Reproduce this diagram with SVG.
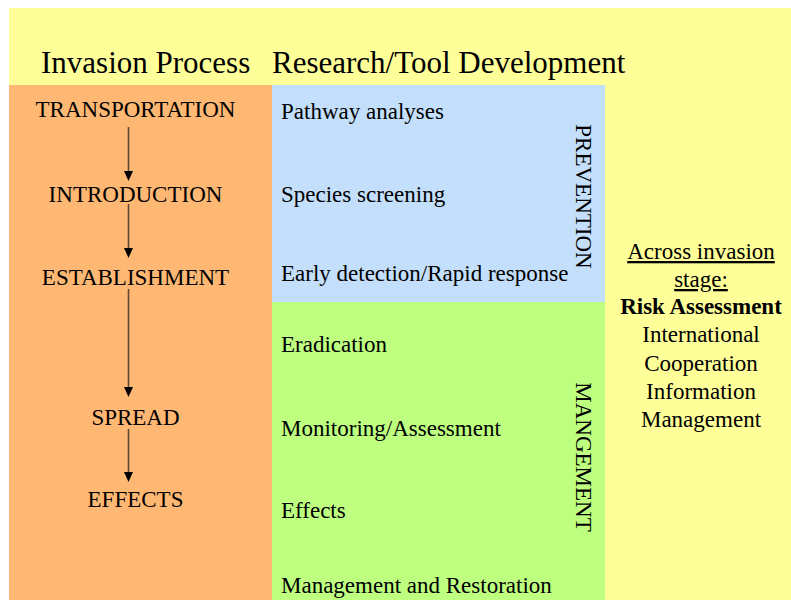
<svg xmlns="http://www.w3.org/2000/svg" width="791" height="600" viewBox="0 0 791 600">
  <style>
    text { font-family: "Liberation Serif", "Times New Roman", serif; fill: #000; }
    .head { font-size: 31px; }
    .lbl { font-size: 23px; }
    .mid { text-anchor: middle; }
    .conn line { stroke: #5e4632; stroke-width: 1.6; }
    .conn path { fill: #000; }
  </style>

  <!-- panels -->
  <rect id="bg" x="9" y="8" width="782" height="592" fill="#FFFF99"/>
  <rect id="process-panel" x="9" y="85" width="263" height="515" fill="#FFB874"/>
  <rect id="prevention-panel" x="272" y="85" width="333" height="217" fill="#C4DFFB"/>
  <rect id="management-panel" x="272" y="302" width="333" height="298" fill="#BEFF80"/>

  <!-- column headings -->
  <g id="headings">
    <text class="head" x="41" y="73">Invasion Process</text>
    <text class="head" x="272" y="73">Research/Tool Development</text>
  </g>

  <!-- invasion stages -->
  <g id="stage-transportation"><text class="lbl mid" x="135.5" y="117">TRANSPORTATION</text></g>
  <g id="stage-introduction"><text class="lbl mid" x="135.5" y="202">INTRODUCTION</text></g>
  <g id="stage-establishment"><text class="lbl mid" x="135.5" y="285">ESTABLISHMENT</text></g>
  <g id="stage-spread"><text class="lbl mid" x="135.5" y="425">SPREAD</text></g>
  <g id="stage-effects"><text class="lbl mid" x="135.5" y="507">EFFECTS</text></g>

  <!-- connectors between stages -->
  <g id="connectors" class="conn">
    <line x1="128.5" y1="127" x2="128.5" y2="172"/>
    <path d="M124,171 L133,171 L128.5,181 Z"/>
    <line x1="128.5" y1="204" x2="128.5" y2="249"/>
    <path d="M124,248 L133,248 L128.5,258 Z"/>
    <line x1="128.5" y1="289" x2="128.5" y2="388"/>
    <path d="M124,387 L133,387 L128.5,397 Z"/>
    <line x1="128.5" y1="429" x2="128.5" y2="473"/>
    <path d="M124,472 L133,472 L128.5,482 Z"/>
  </g>

  <!-- prevention tools -->
  <g id="prevention">
    <text class="lbl" x="281" y="119">Pathway analyses</text>
    <text class="lbl" x="281" y="202">Species screening</text>
    <text class="lbl" x="281" y="281">Early detection/Rapid response</text>
    <text class="lbl mid" transform="translate(576,196.5) rotate(90)">PREVENTION</text>
  </g>

  <!-- management tools -->
  <g id="management">
    <text class="lbl" x="281" y="352">Eradication</text>
    <text class="lbl" x="281" y="436">Monitoring/Assessment</text>
    <text class="lbl" x="281" y="518">Effects</text>
    <text class="lbl" x="281" y="593">Management and Restoration</text>
    <text class="lbl mid" transform="translate(576,457) rotate(90)">MANGEMENT</text>
  </g>

  <!-- cross-cutting themes -->
  <g id="across-stages">
    <text class="lbl mid" x="701" y="259" text-decoration="underline">Across invasion</text>
    <text class="lbl mid" x="701" y="287" text-decoration="underline">stage:</text>
    <text class="lbl mid" x="701" y="314" font-weight="bold">Risk Assessment</text>
    <text class="lbl mid" x="701" y="342">International</text>
    <text class="lbl mid" x="701" y="371">Cooperation</text>
    <text class="lbl mid" x="701" y="399">Information</text>
    <text class="lbl mid" x="701" y="427">Management</text>
  </g>
</svg>
